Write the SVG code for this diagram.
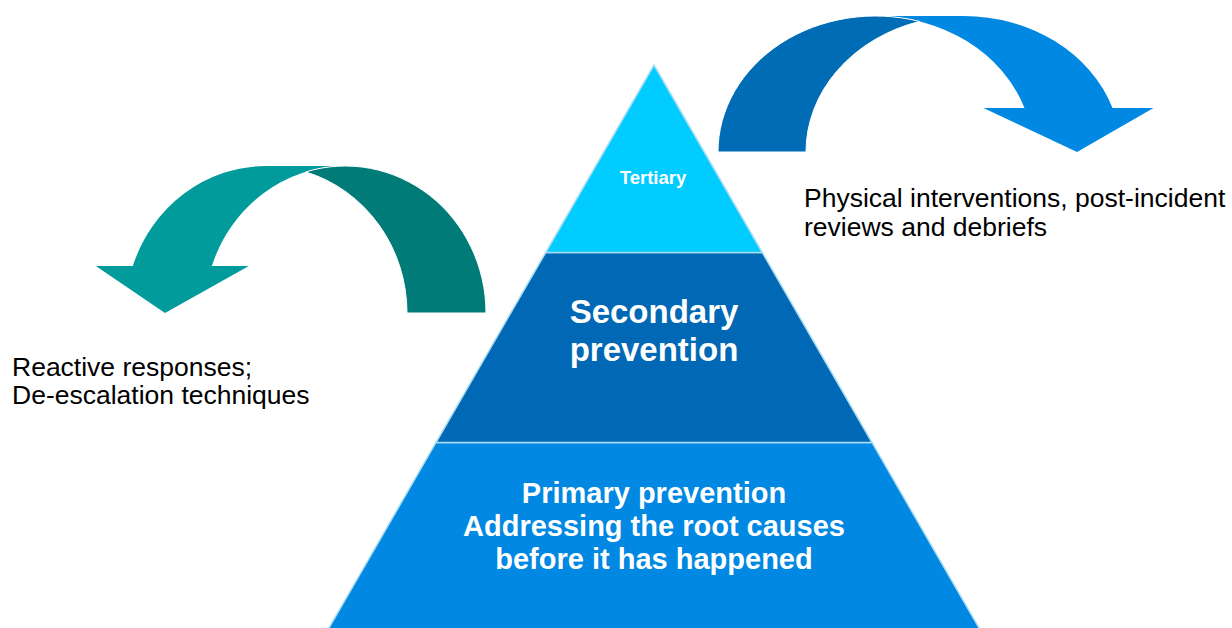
<svg xmlns="http://www.w3.org/2000/svg" width="1232" height="628" viewBox="0 0 1232 628">
  <style>
    .tier { stroke: #A9DDF3; stroke-width: 1.5; stroke-linejoin: miter; }
    .tlabel { font-family: "Liberation Sans", Arial, sans-serif; font-weight: bold; fill: #FFFFFF; text-anchor: middle; }
    .body { font-family: "Liberation Sans", Arial, sans-serif; font-size: 26.5px; fill: #000000; }
    .back { stroke: #FFFFFF; stroke-width: 1; }
  </style>
  <rect width="1232" height="628" fill="#FFFFFF"/>

  <g id="connectors">
    <g id="arrow-left">
      <g transform="matrix(-1 0 0 1 486 0)">
        <path fill="#009B9A" d="M 321,313 L 237.15,266 L 274.15,266 A 140.75 147 0 0 0 140.75,166 L 219.75,166 A 140.75 147 0 0 1 353.15,266 L 390.15,266 Z"/>
        <path class="back" fill="#007B78" d="M 180.25,171.9 A 140.75 147 0 0 0 79,313 L 0,313 A 140.75 147 0 0 1 180.25,171.9 Z"/>
      </g>
    </g>
    <g id="arrow-right">
      <path fill="#0088E2" d="M 1077,152 L 983.5,108 L 1024.5,108 A 157.5 136 0 0 0 875.5,16 L 963.5,16 A 157.5 136 0 0 1 1112.5,108 L 1153.5,108 Z"/>
      <path class="back" fill="#006CB6" d="M 919.5,21.4 A 157.5 136 0 0 0 806,152 L 718,152 A 157.5 136 0 0 1 919.5,21.4 Z"/>
    </g>
  </g>

  <g id="primary">
    <polygon class="tier" fill="#0088E2" points="436,442.5 872,442.5 980.2,630 327.8,630"/>
    <text class="tlabel" font-size="29" x="654" y="503">Primary prevention</text>
    <text class="tlabel" font-size="29" x="654" y="536">Addressing the root causes</text>
    <text class="tlabel" font-size="29" x="654" y="569">before it has happened</text>
  </g>

  <g id="secondary">
    <polygon class="tier" fill="#0068B4" points="545.7,252.5 762.3,252.5 872,442.5 436,442.5"/>
    <text class="tlabel" font-size="33" x="654" y="323">Secondary</text>
    <text class="tlabel" font-size="33" x="654" y="361">prevention</text>
  </g>

  <g id="tertiary">
    <polygon class="tier" fill="#00CCFF" points="654,65 762.3,252.5 545.7,252.5"/>
    <text class="tlabel" font-size="18.5" x="653" y="184">Tertiary</text>
  </g>

  <g id="label-left">
    <text class="body" x="12" y="376">Reactive responses;</text>
    <text class="body" x="12" y="404">De-escalation techniques</text>
  </g>

  <g id="label-right">
    <text class="body" x="804" y="207">Physical interventions, post-incident</text>
    <text class="body" x="804" y="236">reviews and debriefs</text>
  </g>
</svg>
